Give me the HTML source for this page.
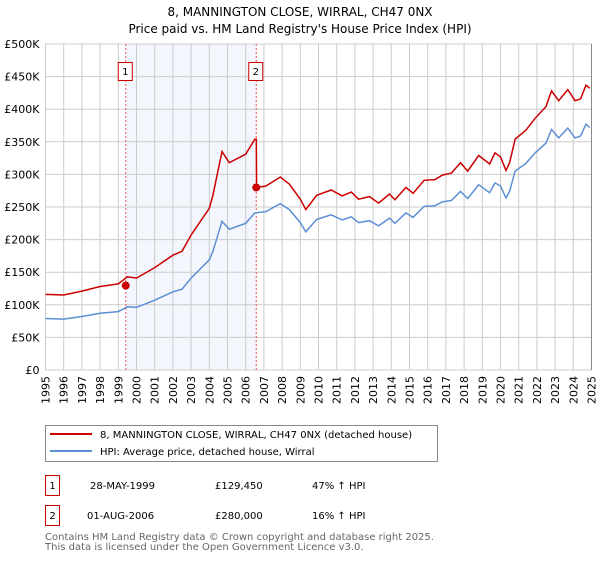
<!DOCTYPE html>
<html><head><meta charset="utf-8"><style>
body{margin:0;background:#fff;font-family:"DejaVu Sans","Liberation Sans",sans-serif;}
svg text{font-family:"DejaVu Sans","Liberation Sans",sans-serif;}
</style></head><body>
<svg id="chart" width="600" height="560" xmlns="http://www.w3.org/2000/svg">
<text x="300" y="16" font-size="12" text-anchor="middle" fill="#000">8, MANNINGTON CLOSE, WIRRAL, CH47 0NX</text>
<text x="300" y="33" font-size="12" text-anchor="middle" fill="#000">Price paid vs. HM Land Registry's House Price Index (HPI)</text>
<g id="plot"></g>
<g>
<rect x="45.5" y="425.5" width="392" height="36" fill="#fff" stroke="#888"/>
<line x1="50" y1="434" x2="92" y2="434" stroke="#cc0000" stroke-width="2"/>
<text x="100" y="438" font-size="10">8, MANNINGTON CLOSE, WIRRAL, CH47 0NX (detached house)</text>
<line x1="50" y1="451" x2="92" y2="451" stroke="#5b8fd4" stroke-width="2"/>
<text x="100" y="455" font-size="10">HPI: Average price, detached house, Wirral</text>
</g>
<g font-size="10">
<rect x="45.5" y="475.5" width="14" height="20" fill="#fff" stroke="#cc0000"/>
<text x="52.5" y="489" text-anchor="middle">1</text>
<text x="90" y="489">28-MAY-1999</text><text x="215" y="489">£129,450</text><text x="312" y="489">47% ↑ HPI</text>
<rect x="45.5" y="505.5" width="14" height="20" fill="#fff" stroke="#cc0000"/>
<text x="52.5" y="519" text-anchor="middle">2</text>
<text x="87" y="519">01-AUG-2006</text><text x="215" y="519">£280,000</text><text x="312" y="519">16% ↑ HPI</text>
</g>
<text x="45" y="540" font-size="10" fill="#666">Contains HM Land Registry data © Crown copyright and database right 2025.</text>
<text x="45" y="550" font-size="10" fill="#666">This data is licensed under the Open Government Licence v3.0.</text>
</svg>
<script>
const hpiYears=[1995,1996,1997,1998,1999,1999.5,2000,2001,2002,2002.5,2003,2004,2004.2,2004.7,2005.1,2006,2006.5,2007.1,2007.9,2008.4,2009,2009.3,2009.9,2010.7,2011.3,2011.8,2012.2,2012.8,2013.3,2013.9,2014.2,2014.8,2015.2,2015.8,2016.4,2016.8,2017.3,2017.8,2018.2,2018.8,2019.4,2019.7,2020,2020.3,2020.5,2020.8,2021.4,2021.9,2022.5,2022.8,2023.2,2023.7,2024.1,2024.4,2024.7,2024.9];
const hpiValues=[79,78,82,87,89.5,97,96,107,120,124,141,169,182,228,216,225,241,243,255,246,226,212,231,238,230,235,226,229,221,233,225,241,234,251,252,258,260,274,263,284,272,287,282,264,274,305,317,333,348,369,356,371,356,359,377,372];
const priceYears=[1995,1996,1997,1998,1999,1999.5,2000,2001,2002,2002.5,2003,2004,2004.2,2004.7,2005.1,2006,2006.5,2006.58,2006.6,2007.1,2007.9,2008.4,2009,2009.3,2009.9,2010.7,2011.3,2011.8,2012.2,2012.8,2013.3,2013.9,2014.2,2014.8,2015.2,2015.8,2016.4,2016.8,2017.3,2017.8,2018.2,2018.8,2019.4,2019.7,2020,2020.3,2020.5,2020.8,2021.4,2021.9,2022.5,2022.8,2023.2,2023.7,2024.1,2024.4,2024.7,2024.9];
const priceValues=[116,115,121,128,132,143,141,157,176,182,207,248,268,335,318,331,354,354,280,282,296,285,262,246,268,276,267,273,262,266,256,270,261,280,271,291,292,299,302,318,305,329,316,333,327,306,318,354,368,386,404,428,413,430,413,416,437,432];
const saleYears=[1999.41,2006.58];
const saleValues=[129.45,280];
const saleLabels=["1","2"];
const yTicks=[0,50,100,150,200,250,300,350,400,450,500];
const yTickLabels=["£0","£50K","£100K","£150K","£200K","£250K","£300K","£350K","£400K","£450K","£500K"];
const xTicks=[1995,1996,1997,1998,1999,2000,2001,2002,2003,2004,2005,2006,2007,2008,2009,2010,2011,2012,2013,2014,2015,2016,2017,2018,2019,2020,2021,2022,2023,2024,2025];

const L=45.5,R=591.5,T=44,B=370;
const X=y=>L+(y-1995)/30*(R-L);
const Y=v=>B-v/500*(B-T);
const NS="http://www.w3.org/2000/svg";
const g=document.getElementById('plot');
function mk(t,a){const e=document.createElementNS(NS,t);for(const k in a)e.setAttribute(k,a[k]);g.appendChild(e);return e;}
let e=mk('rect',{x:X(saleYears[0]),y:T,width:X(saleYears[1])-X(saleYears[0]),height:B-T,fill:'#eef2fc',opacity:0.7});


xTicks.forEach(t=>{
 let l=mk('line',{x1:X(t),x2:X(t),y1:T,y2:B,stroke:'#cccccc'});
 
 
 let tx=mk('text',{x:0,y:0,'font-size':11,'text-anchor':'end',transform:`translate(${X(t)+4},${B+6}) rotate(-90)`});
 tx.textContent=t;
 
 
});
yTicks.forEach((t,i)=>{
 let l=mk('line',{x1:L,x2:R,y1:Y(t),y2:Y(t),stroke:'#cccccc'});
 
 
 let tx=mk('text',{x:L-6,y:Y(t)+4,'font-size':11,'text-anchor':'end'});
 tx.textContent=yTickLabels[i];
 
 
});
e=mk('line',{x1:R,x2:R,y1:T,y2:B,stroke:'#888'});


saleYears.forEach((s,i)=>{
 let l=mk('line',{x1:X(s),x2:X(s),y1:T,y2:B,stroke:'#ee5555','stroke-dasharray':'2,2'});
 
 
 let r=mk('rect',{x:X(s)-7.5,y:62.5,width:14,height:18,fill:'#fff',stroke:'#cc0000'});
 
 
 let t=mk('text',{x:X(s)-0.5,y:75,'font-size':10,'text-anchor':'middle'});
 t.textContent=saleLabels[i];
 
 
});
const pts=(xs,vs)=>xs.map((x,i)=>X(x).toFixed(1)+','+Y(vs[i]).toFixed(1)).join(' ');
e=mk('polyline',{points:pts(hpiYears,hpiValues),fill:'none',stroke:'#5b8fd4','stroke-width':1.5});


e=mk('polyline',{points:pts(priceYears,priceValues),fill:'none',stroke:'#cc0000','stroke-width':1.5});


saleYears.forEach((s,i)=>{
 let c=mk('circle',{cx:X(s),cy:Y(saleValues[i]),r:4,fill:'#cc0000'});
 
 
});
</script>
</body></html>
